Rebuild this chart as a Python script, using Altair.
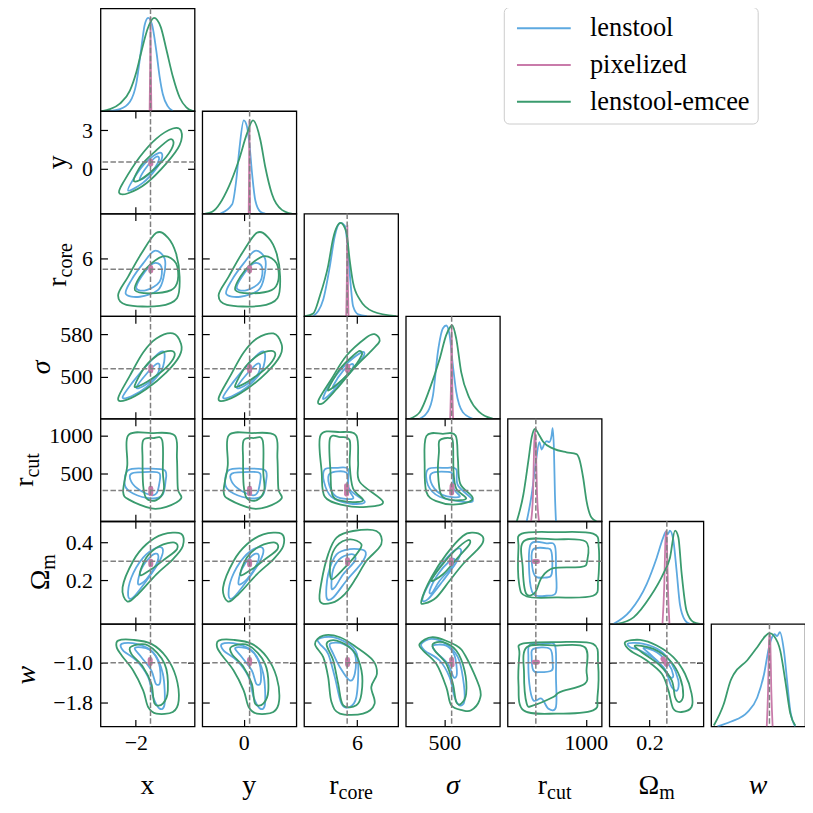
import altair as alt
import pandas as pd

FONT = "Liberation Serif"
W, H = 94.5, 103

PARAMS = ["x", "y", "rcore", "sigma", "rcut", "om", "w"]
DOMAIN = {"x": [-3.2, 0.0], "y": [-3.55, 4.5], "rcore": [3.3, 8.1], "sigma": [420, 615],
          "rcut": [-135, 1230], "om": [-0.03, 0.51], "w": [-2.29, -0.21]}
TRUTH = {"x": -1.5, "y": 0.5, "rcore": 5.5, "sigma": 515, "rcut": 275, "om": 0.3, "w": -1.0}
XTICKS = {"x": [-2], "y": [0], "rcore": [6], "sigma": [500], "rcut": [1000], "om": [0.2], "w": [-1]}
YTICKS = {"y": [0, 3], "rcore": [6], "sigma": [500, 580], "rcut": [500, 1000], "om": [0.2, 0.4], "w": [-1.8, -1.0]}
XFMT = {"x": "d", "y": "d", "rcore": "d", "sigma": "d", "rcut": "d", "om": ".1f", "w": "d"}
YFMT = {"y": "d", "rcore": "d", "sigma": "d", "rcut": "d", "om": ".1f", "w": ".1f"}
TITLE_MAIN = {"x": "x", "y": "y", "rcore": "r", "sigma": "σ", "rcut": "r", "om": "Ω", "w": "w"}
TITLE_SUB = {"rcore": "core", "rcut": "cut", "om": "m"}
ITALIC = ["sigma", "w"]
METHODS = ["lenstool", "pixelized", "lenstool-emcee"]
COLORS = ["#5DA9E0", "#C97BAA", "#3A9B6E"]

# ---------------- 1D marginals (value, relative height) ----------------
D_x = {
    "lenstool": [(-2.88, 0), (-2.54, 0.02), (-2.2, 0.1), (-1.98, 0.3), (-1.81, 0.68), (-1.7, 0.92), (-1.58, 1.0),
                 (-1.45, 0.93), (-1.3, 0.64), (-1.19, 0.37), (-1.08, 0.18), (-0.91, 0.05), (-0.74, 0.0)],
    "lenstool-emcee": [(-3.15, 0.0), (-2.88, 0.02), (-2.54, 0.08), (-2.2, 0.22), (-1.98, 0.42), (-1.8, 0.65),
                       (-1.6, 0.88), (-1.38, 1.0), (-1.15, 0.9), (-0.96, 0.66), (-0.74, 0.37), (-0.5, 0.14),
                       (-0.28, 0.04), (-0.05, 0.0)],
    "pixelized": [(-1.53, 0), (-1.51, 0.5), (-1.50, 1.0), (-1.49, 0.5), (-1.47, 0)],
}
D_y = {
    "lenstool": [(-2.0, 0.0), (-0.99, 0.1), (-0.65, 0.35), (-0.37, 0.7), (0.0, 1.0), (0.28, 0.93), (0.48, 0.75),
                 (0.71, 0.43), (0.99, 0.14), (1.42, 0.02), (1.84, 0.0)],
    "lenstool-emcee": [(-3.3, 0.0), (-2.7, 0.02), (-1.28, 0.29), (-0.43, 0.57), (0.28, 0.86), (0.79, 1.0),
                       (1.42, 0.79), (1.84, 0.5), (2.41, 0.21), (3.26, 0.04), (4.1, 0.0)],
    "pixelized": [(0.42, 0), (0.46, 0.5), (0.48, 1.0), (0.50, 0.5), (0.54, 0)],
}
D_rcore = {
    "lenstool": [(3.77, 0), (4.28, 0.18), (4.62, 0.54), (4.87, 0.86), (5.16, 1.0), (5.38, 0.97), (5.55, 0.68),
                 (5.67, 0.36), (5.80, 0.11), (6.06, 0.02), (6.5, 0)],
    "lenstool-emcee": [(3.35, 0), (3.77, 0.03), (4.11, 0.22), (4.53, 0.54), (4.79, 0.84), (5.16, 1.0), (5.46, 0.9),
                       (5.63, 0.6), (5.80, 0.36), (6.14, 0.18), (6.82, 0.05), (8.0, 0)],
    "pixelized": [(5.45, 0), (5.49, 0.5), (5.51, 0.97), (5.53, 0.5), (5.57, 0)],
}
D_sigma = {
    "lenstool": [(448.8, 0), (466.0, 0.08), (476.3, 0.25), (486.6, 0.72), (497.0, 0.97), (503.9, 1.0), (510.7, 0.9),
                 (517.6, 0.57), (524.5, 0.29), (538.2, 0.07), (558.9, 0.0)],
    "lenstool-emcee": [(428.4, 0), (448.8, 0.07), (469.5, 0.32), (490.1, 0.64), (503.9, 0.9), (516.3, 1.0),
                       (524.5, 0.86), (534.8, 0.5), (552.0, 0.22), (572.6, 0.07), (600.1, 0)],
    "pixelized": [(512, 0), (514, 0.5), (515, 1.0), (516, 0.5), (518, 0)],
}
D_rcut = {
    "lenstool": [(143, 0), (215, 0.29), (278, 0.65), (326, 0.85), (360, 0.77), (398, 0.83), (432, 0.86), (470, 0.85),
                 (504, 0.92), (519, 1.0), (538, 0.76), (552, 0.29), (567, 0)],
    "lenstool-emcee": [(-1, 0), (95, 0.29), (167, 0.65), (215, 0.9), (263, 0.99), (312, 0.94), (384, 0.85),
                       (528, 0.78), (720, 0.74), (865, 0.72), (913, 0.65), (961, 0.47), (1010, 0.22), (1082, 0.04),
                       (1154, 0)],
    "pixelized": [(206, 0), (235, 0.3), (250, 0.8), (263, 0.97), (276, 0.8), (292, 0.3), (321, 0)],
}
D_om = {
    "lenstool": [(-0.005, 0), (0.09, 0.14), (0.185, 0.43), (0.242, 0.71), (0.28, 0.93), (0.295, 0.99), (0.305, 0.96),
                 (0.318, 1.0), (0.337, 0.9), (0.356, 0.57), (0.375, 0.21), (0.404, 0.04), (0.432, 0)],
    "lenstool-emcee": [(0.014, 0), (0.109, 0.07), (0.204, 0.29), (0.28, 0.54), (0.318, 0.71), (0.347, 1.0),
                       (0.366, 0.93), (0.385, 0.54), (0.413, 0.14), (0.452, 0.02), (0.49, 0)],
    "pixelized": [(0.275, 0), (0.285, 0.4), (0.292, 0.9), (0.296, 1.0), (0.300, 0.9), (0.306, 0.4), (0.315, 0)],
}
D_w = {
    "lenstool": [(-2.15, 0), (-1.86, 0.05), (-1.49, 0.15), (-1.27, 0.31), (-1.12, 0.56), (-1.01, 0.85), (-0.94, 0.96),
                 (-0.89, 0.99), (-0.83, 0.97), (-0.77, 1.01), (-0.68, 0.81), (-0.61, 0.49), (-0.54, 0.17), (-0.43, 0)],
    "lenstool-emcee": [(-2.23, 0.01), (-2.01, 0.24), (-1.86, 0.49), (-1.79, 0.56), (-1.49, 0.71), (-1.27, 0.85),
                       (-1.09, 0.97), (-1.0, 1.0), (-0.90, 0.97), (-0.76, 0.81), (-0.65, 0.49), (-0.54, 0.14),
                       (-0.43, 0.01)],
    "pixelized": [(-1.06, 0), (-1.03, 0.4), (-1.01, 0.9), (-0.995, 1.0), (-0.98, 0.9), (-0.96, 0.4), (-0.93, 0)],
}

# ---------------- 2D contours: (column value, row value) ----------------
# g2/g1: lenstool-emcee outer/inner, b2/b1: lenstool outer/inner, p: pixelized
C_y_x = dict(
    g2=[(-2.57, -1.90), (-2.41, -1.04), (-1.86, 0.91), (-1.30, 2.34), (-0.74, 3.13), (-0.46, 2.94), (-0.51, 1.82),
        (-0.96, 0.39), (-1.64, -1.17), (-2.26, -1.95)],
    g1=[(-2.07, -0.91), (-1.81, 0.26), (-1.36, 1.30), (-0.85, 2.27), (-0.72, 1.90), (-0.96, 0.91), (-1.41, -0.13),
        (-1.86, -0.91)],
    b2=[(-2.26, -1.74), (-2.03, -0.65), (-1.64, 0.52), (-1.21, 1.22), (-1.10, 0.91), (-1.30, 0.0), (-1.75, -1.12)],
    b1=[(-1.86, -0.78), (-1.58, 0.26), (-1.30, 0.91), (-1.21, 0.70), (-1.41, -0.13), (-1.73, -0.78)],
    p=[(-1.49, 0.32), (-1.49, 0.58)],
)
C_rcore_x = dict(
    g2=[(-1.30, 7.20), (-0.91, 6.98), (-0.63, 6.23), (-0.51, 5.15), (-0.60, 4.14), (-1.19, 3.78), (-2.32, 3.83),
        (-2.60, 4.29), (-2.26, 5.15), (-1.81, 6.23)],
    g1=[(-1.02, 6.11), (-0.63, 5.77), (-0.57, 4.99), (-0.80, 4.52), (-1.53, 4.37), (-2.03, 4.52), (-1.86, 5.15),
        (-1.47, 5.77)],
    b2=[(-1.36, 6.36), (-1.02, 6.0), (-1.05, 5.15), (-1.25, 4.52), (-1.86, 4.21), (-2.34, 4.34), (-2.15, 4.99),
        (-1.75, 5.77)],
    b1=[(-1.41, 5.77), (-1.13, 5.61), (-1.19, 4.91), (-1.64, 4.52), (-1.98, 4.60), (-1.81, 5.15)],
    p=[(-1.49, 5.42), (-1.49, 5.58)],
)
C_rcore_y = dict(
    g2=[(1.12, 7.20), (2.10, 6.98), (2.81, 6.23), (3.11, 5.15), (2.88, 4.14), (1.40, 3.78), (-1.44, 3.83),
        (-2.15, 4.29), (-1.29, 5.15), (-0.16, 6.23)],
    g1=[(1.82, 6.11), (2.81, 5.77), (2.96, 4.99), (2.38, 4.52), (0.54, 4.37), (-0.72, 4.52), (-0.29, 5.15),
        (0.69, 5.77)],
    b2=[(0.97, 6.36), (1.82, 6.0), (1.75, 5.15), (1.25, 4.52), (-0.29, 4.21), (-1.50, 4.34), (-1.02, 4.99),
        (-0.01, 5.77)],
    b1=[(0.84, 5.77), (1.55, 5.61), (1.40, 4.91), (0.27, 4.52), (-0.59, 4.60), (-0.16, 5.15)],
    p=[(0.5, 5.42), (0.5, 5.58)],
)
C_sigma_x = dict(
    g2=[(-2.60, 459.0), (-2.20, 501.9), (-1.75, 546.1), (-1.30, 572.6), (-0.74, 582.1), (-0.46, 561.9),
        (-0.51, 539.8), (-0.96, 508.2), (-1.64, 476.6), (-2.32, 455.8)],
    g1=[(-2.03, 484.2), (-1.70, 517.7), (-1.25, 541.0), (-0.80, 549.2), (-0.68, 539.8), (-0.96, 517.7),
        (-1.47, 495.6), (-1.92, 481.7)],
    b2=[(-2.45, 460.9), (-2.09, 490.5), (-1.64, 520.8), (-1.19, 546.1), (-1.02, 542.9), (-1.13, 511.4),
        (-1.64, 479.8), (-2.15, 462.8)],
    b1=[(-1.98, 479.8), (-1.64, 505.1), (-1.30, 524.0), (-1.19, 520.8), (-1.30, 501.9), (-1.75, 481.7)],
    p=[(-1.49, 511), (-1.49, 519)],
)
C_sigma_y = dict(
    g2=[(-2.15, 459.0), (-1.14, 501.9), (-0.01, 546.1), (1.12, 572.6), (2.53, 582.1), (3.23, 561.9), (3.11, 539.8),
        (1.98, 508.2), (0.27, 476.6), (-1.44, 455.8)],
    g1=[(-0.72, 484.2), (0.11, 517.7), (1.25, 541.0), (2.38, 549.2), (2.68, 539.8), (1.98, 517.7), (0.69, 495.6),
        (-0.44, 481.7)],
    b2=[(-1.77, 460.9), (-0.87, 490.5), (0.27, 520.8), (1.40, 546.1), (1.82, 542.9), (1.55, 511.4), (0.27, 479.8),
        (-1.02, 462.8)],
    b1=[(-0.59, 479.8), (0.27, 505.1), (1.12, 524.0), (1.40, 520.8), (1.12, 501.9), (-0.01, 481.7)],
    p=[(0.5, 511), (0.5, 519)],
)
C_sigma_rcore = dict(
    g2=[(4.03, 454.5), (4.70, 495.6), (5.46, 539.8), (6.48, 574.5), (6.90, 580.8), (7.16, 568.2), (6.73, 549.2),
        (5.89, 517.7), (4.96, 476.6), (4.28, 450.1)],
    g1=[(4.53, 476.6), (5.13, 514.5), (5.80, 539.8), (6.14, 549.2), (6.23, 539.8), (5.63, 508.2), (4.79, 479.8)],
    b2=[(4.28, 460.9), (4.79, 495.6), (5.46, 524.0), (6.23, 546.1), (6.35, 539.8), (5.80, 514.5), (4.96, 479.8),
        (4.45, 460.9)],
    b1=[(4.79, 483.0), (5.30, 511.4), (5.72, 524.0), (5.80, 517.7), (5.38, 498.7), (4.87, 479.8)],
    p=[(5.52, 512), (5.53, 520)],
)
C_rcut_x = dict(
    g2=[(-2.26, 1008), (-1.47, 1039), (-0.68, 1008), (-0.60, 699), (-0.57, 301), (-0.46, 169), (-0.96, 58),
        (-1.47, 36), (-2.20, 147), (-2.43, 257), (-2.29, 610)],
    g1=[(-1.75, 942), (-1.41, 973), (-1.10, 942), (-1.08, 522), (-1.05, 279), (-1.30, 147), (-1.64, 169),
        (-1.75, 345), (-1.77, 699)],
    b2=[(-2.26, 544), (-1.64, 566), (-1.02, 544), (-0.99, 390), (-1.10, 213), (-1.47, 169), (-2.09, 235),
        (-2.37, 345)],
    b1=[(-2.15, 500), (-1.53, 522), (-1.19, 500), (-1.21, 345), (-1.30, 235), (-1.47, 213), (-1.86, 279),
        (-2.15, 390)],
    p=[(-1.49, 230), (-1.49, 305)],
)
C_rcut_y = dict(
    g2=[(-1.29, 1008), (0.69, 1039), (2.68, 1008), (2.88, 699), (2.96, 301), (3.23, 169), (1.98, 58), (0.69, 36),
        (-1.14, 147), (-1.72, 257), (-1.37, 610)],
    g1=[(-0.01, 942), (0.84, 973), (1.62, 942), (1.67, 522), (1.75, 279), (1.12, 147), (0.27, 169), (-0.01, 345),
        (-0.06, 699)],
    b2=[(-1.29, 544), (0.27, 566), (1.82, 544), (1.90, 390), (1.62, 213), (0.69, 169), (-0.87, 235), (-1.57, 345)],
    b1=[(-1.02, 500), (0.54, 522), (1.40, 500), (1.35, 345), (1.12, 235), (0.69, 213), (-0.29, 279), (-1.02, 390)],
    p=[(0.5, 230), (0.5, 305)],
)
C_rcut_rcore = dict(
    g2=[(4.14, 1008), (5.13, 1052), (5.97, 1008), (6.06, 655), (6.14, 390), (7.33, 125), (6.48, 58), (5.30, 80),
        (4.36, 191), (4.20, 522)],
    g1=[(4.62, 964), (5.13, 986), (5.63, 942), (5.63, 610), (5.80, 301), (6.31, 147), (5.63, 125), (4.79, 191),
        (4.65, 522)],
    b2=[(4.36, 557), (4.96, 575), (5.55, 557), (5.60, 301), (6.40, 125), (5.63, 102), (4.70, 191), (4.32, 390)],
    b1=[(4.62, 500), (5.46, 513), (5.55, 301), (5.80, 169), (4.96, 191), (4.59, 345)],
    p=[(5.47, 225), (5.47, 340)],
)
C_rcut_sigma = dict(
    g2=[(462.6, 999), (497.0, 1030), (523.1, 1008), (527.9, 699), (532.7, 367), (558.9, 169), (524.5, 89),
        (483.2, 133), (462.6, 257), (459.1, 610)],
    g1=[(490.1, 942), (510.7, 973), (517.6, 920), (519.0, 522), (524.5, 301), (545.1, 169), (517.6, 147),
        (493.5, 213), (486.6, 522), (488.7, 787)],
    b2=[(466.0, 557), (503.9, 575), (524.5, 557), (527.9, 345), (558.9, 147), (538.2, 125), (490.1, 191),
        (466.0, 345)],
    b1=[(472.9, 500), (507.3, 522), (517.6, 478), (519.0, 301), (531.4, 191), (497.0, 213), (474.9, 345)],
    p=[(515, 240), (516, 340)],
)
C_om_x = dict(
    g2=[(-0.46, 0.445), (-1.08, 0.441), (-1.64, 0.389), (-2.09, 0.301), (-2.45, 0.162), (-2.29, 0.088),
        (-1.92, 0.127), (-1.30, 0.231), (-0.74, 0.310), (-0.40, 0.380)],
    g1=[(-1.86, 0.228), (-1.64, 0.319), (-1.19, 0.380), (-0.68, 0.398), (-0.60, 0.363), (-1.02, 0.310),
        (-1.47, 0.258)],
    b2=[(-2.26, 0.118), (-2.15, 0.214), (-1.75, 0.319), (-1.30, 0.371), (-1.08, 0.363), (-1.19, 0.301),
        (-1.64, 0.197), (-2.09, 0.109)],
    b1=[(-1.92, 0.179), (-1.81, 0.258), (-1.47, 0.328), (-1.25, 0.336), (-1.30, 0.284), (-1.64, 0.205)],
    p=[(-1.49, 0.28), (-1.49, 0.30)],
)
C_om_y = dict(
    g2=[(3.23, 0.445), (1.67, 0.441), (0.27, 0.389), (-0.87, 0.301), (-1.77, 0.162), (-1.37, 0.088), (-0.44, 0.127),
        (1.12, 0.231), (2.53, 0.310), (3.38, 0.380)],
    g1=[(-0.29, 0.228), (0.27, 0.319), (1.40, 0.380), (2.68, 0.398), (2.88, 0.363), (1.82, 0.310), (0.69, 0.258)],
    b2=[(-1.29, 0.118), (-1.02, 0.214), (-0.01, 0.319), (1.12, 0.371), (1.67, 0.363), (1.40, 0.301), (0.27, 0.197),
        (-0.87, 0.109)],
    b1=[(-0.44, 0.179), (-0.16, 0.258), (0.69, 0.328), (1.25, 0.336), (1.12, 0.284), (0.27, 0.205)],
    p=[(0.5, 0.28), (0.5, 0.30)],
)
C_om_rcore = dict(
    g2=[(4.11, 0.09), (4.20, 0.197), (4.53, 0.336), (4.96, 0.424), (5.80, 0.459), (6.99, 0.459), (7.24, 0.389),
        (6.48, 0.301), (5.97, 0.214), (5.38, 0.127), (4.70, 0.08)],
    g1=[(4.70, 0.205), (4.65, 0.301), (4.96, 0.380), (5.63, 0.415), (6.23, 0.389), (5.97, 0.336), (5.30, 0.258)],
    b2=[(4.45, 0.109), (4.53, 0.231), (4.96, 0.336), (5.63, 0.363), (6.40, 0.354), (6.31, 0.301), (5.46, 0.197),
        (4.79, 0.109)],
    b1=[(4.70, 0.162), (4.79, 0.258), (5.21, 0.319), (5.80, 0.336), (5.89, 0.301), (5.30, 0.231), (4.87, 0.162)],
    p=[(5.52, 0.287), (5.52, 0.307)],
)
C_om_sigma = dict(
    g2=[(452.3, 0.092), (472.9, 0.214), (503.9, 0.336), (538.2, 0.433), (558.9, 0.450), (578.1, 0.433),
        (579.5, 0.398), (565.8, 0.354), (538.2, 0.284), (510.7, 0.197), (483.2, 0.109), (459.1, 0.078)],
    g1=[(472.9, 0.197), (493.5, 0.275), (521.0, 0.354), (548.5, 0.410), (552.0, 0.389), (527.9, 0.319),
        (497.0, 0.231)],
    b2=[(454.3, 0.100), (469.5, 0.188), (497.0, 0.293), (524.5, 0.363), (534.8, 0.354), (524.5, 0.293),
        (497.0, 0.197), (466.0, 0.100)],
    b1=[(469.5, 0.144), (486.6, 0.231), (510.7, 0.301), (521.0, 0.310), (514.2, 0.266), (490.1, 0.197),
        (474.9, 0.135)],
    p=[(514, 0.287), (514, 0.307)],
)
C_om_rcut = dict(
    g2=[(71, 0.445), (576, 0.453), (1106, 0.445), (1188, 0.371), (1178, 0.197), (1106, 0.118), (576, 0.109),
        (143, 0.114), (33, 0.179), (23, 0.371)],
    g1=[(104, 0.406), (576, 0.415), (1000, 0.403), (1019, 0.301), (937, 0.270), (528, 0.263), (360, 0.214),
        (263, 0.135), (133, 0.130), (85, 0.266)],
    b2=[(201, 0.389), (432, 0.394), (552, 0.380), (567, 0.249), (567, 0.135), (432, 0.118), (239, 0.127),
        (181, 0.231)],
    b1=[(239, 0.363), (432, 0.368), (504, 0.345), (504, 0.231), (408, 0.214), (263, 0.223), (215, 0.301)],
    p=[(250, 0.298), (300, 0.298)],
)
C_w_x = dict(
    g2=[(-2.60, -0.549), (-2.09, -0.535), (-1.47, -0.616), (-0.96, -0.886), (-0.63, -1.290), (-0.54, -1.761),
        (-0.74, -1.997), (-1.30, -2.030), (-1.58, -1.896), (-1.75, -1.559), (-2.09, -1.155), (-2.48, -0.852),
        (-2.65, -0.684)],
    g1=[(-2.15, -0.670), (-1.58, -0.650), (-1.02, -1.020), (-0.91, -1.559), (-1.08, -1.828), (-1.36, -1.828),
        (-1.47, -1.424), (-1.75, -1.088), (-2.15, -0.818)],
    b2=[(-2.48, -0.616), (-1.98, -0.616), (-1.41, -0.785), (-1.08, -1.222), (-1.02, -1.828), (-1.19, -1.929),
        (-1.41, -1.694), (-1.58, -1.290), (-1.98, -0.953), (-2.43, -0.751)],
    b1=[(-2.03, -0.697), (-1.53, -0.737), (-1.21, -1.020), (-1.17, -1.391), (-1.32, -1.424), (-1.47, -1.155),
        (-1.81, -0.886)],
    p=[(-1.51, -0.93), (-1.51, -1.02)],
)
C_w_y = dict(
    g2=[(-2.15, -0.549), (-0.87, -0.535), (0.69, -0.616), (1.98, -0.886), (2.81, -1.290), (3.03, -1.761),
        (2.53, -1.997), (1.12, -2.030), (0.42, -1.896), (-0.01, -1.559), (-0.87, -1.155), (-1.85, -0.852),
        (-2.28, -0.684)],
    g1=[(-1.02, -0.670), (0.42, -0.650), (1.82, -1.020), (2.10, -1.559), (1.67, -1.828), (0.97, -1.828),
        (0.69, -1.424), (-0.01, -1.088), (-1.02, -0.818)],
    b2=[(-1.85, -0.616), (-0.59, -0.616), (0.84, -0.785), (1.67, -1.222), (1.82, -1.828), (1.40, -1.929),
        (0.84, -1.694), (0.42, -1.290), (-0.59, -0.953), (-1.72, -0.751)],
    b1=[(-0.72, -0.697), (0.54, -0.737), (1.35, -1.020), (1.45, -1.391), (1.07, -1.424), (0.69, -1.155),
        (-0.16, -0.886)],
    p=[(0.5, -0.93), (0.5, -1.02)],
)
C_w_rcore = dict(
    g2=[(3.86, -0.616), (4.28, -0.448), (5.13, -0.481), (5.97, -0.684), (6.82, -0.953), (7.02, -1.222),
        (6.73, -1.492), (6.90, -1.828), (6.31, -2.030), (5.13, -2.030), (4.70, -1.795), (4.53, -1.290),
        (4.28, -0.886)],
    g1=[(4.45, -0.616), (4.96, -0.549), (5.80, -0.751), (6.23, -1.155), (6.23, -1.626), (5.97, -1.862),
        (5.30, -1.862), (5.04, -1.424), (4.79, -0.953)],
    b2=[(4.03, -0.515), (4.79, -0.481), (5.80, -0.684), (6.06, -1.020), (5.97, -1.694), (5.63, -1.896),
        (5.21, -1.828), (4.87, -1.290), (4.53, -0.818), (4.11, -0.616)],
    b1=[(4.62, -0.616), (5.30, -0.616), (5.89, -0.818), (5.89, -1.222), (5.63, -1.357), (5.13, -1.088),
        (4.79, -0.818)],
    p=[(5.52, -0.93), (5.52, -1.04)],
)
C_w_sigma = dict(
    g2=[(448.8, -0.616), (476.3, -0.481), (524.5, -0.650), (545.1, -0.886), (572.6, -1.492), (572.6, -1.761),
        (555.4, -1.963), (538.2, -1.963), (514.2, -1.862), (503.9, -1.492), (483.2, -1.020), (455.7, -0.751)],
    g1=[(476.3, -0.616), (497.0, -0.582), (524.5, -0.751), (541.7, -1.155), (545.1, -1.626), (534.8, -1.828),
        (524.5, -1.795), (517.6, -1.424), (503.9, -1.020), (479.8, -0.751)],
    b2=[(452.3, -0.616), (472.9, -0.515), (503.9, -0.616), (527.9, -0.886), (538.2, -1.290), (541.7, -1.761),
        (531.4, -1.862), (521.0, -1.694), (510.7, -1.290), (490.1, -0.953), (459.1, -0.751)],
    b1=[(476.3, -0.650), (503.9, -0.650), (521.0, -0.852), (525.9, -1.222), (519.0, -1.290), (507.3, -1.020),
        (483.2, -0.785)],
    p=[(515, -0.93), (516, -1.04)],
)
C_w_rcut = dict(
    g2=[(71, -0.616), (576, -0.582), (1106, -0.616), (1178, -1.020), (1169, -1.694), (1106, -1.963), (576, -2.030),
        (95, -1.963), (23, -1.424), (37, -0.818)],
    g1=[(143, -0.684), (576, -0.650), (986, -0.684), (1010, -1.155), (986, -1.424), (624, -1.593), (528, -1.694),
        (239, -1.862), (143, -1.828), (104, -1.222)],
    b2=[(191, -0.630), (432, -0.603), (557, -0.670), (567, -1.290), (567, -1.896), (456, -1.929), (360, -1.727),
        (239, -1.761), (181, -1.424), (167, -0.886)],
    b1=[(239, -0.717), (480, -0.717), (519, -1.020), (504, -1.155), (335, -1.189), (239, -1.155), (215, -0.886)],
    p=[(250, -0.99), (300, -0.99)],
)
C_w_om = dict(
    g2=[(0.061, -0.582), (0.147, -0.535), (0.242, -0.650), (0.337, -0.886), (0.404, -1.222), (0.442, -1.626),
        (0.442, -1.896), (0.385, -1.997), (0.337, -1.929), (0.309, -1.559), (0.271, -1.222), (0.185, -0.953),
        (0.090, -0.751)],
    g1=[(0.118, -0.650), (0.223, -0.717), (0.318, -0.953), (0.375, -1.290), (0.394, -1.660), (0.372, -1.795),
        (0.347, -1.694), (0.328, -1.357), (0.261, -1.054), (0.156, -0.785)],
    b2=[(0.080, -0.603), (0.166, -0.616), (0.261, -0.751), (0.328, -1.020), (0.366, -1.357), (0.360, -1.559),
        (0.328, -1.492), (0.299, -1.222), (0.242, -0.953), (0.147, -0.751), (0.090, -0.684)],
    b1=[(0.166, -0.697), (0.242, -0.785), (0.309, -1.020), (0.337, -1.256), (0.318, -1.290), (0.280, -1.088),
        (0.213, -0.852)],
    p=[(0.278, -0.92), (0.298, -1.03)],
)

DIAG = {"x": D_x, "y": D_y, "rcore": D_rcore, "sigma": D_sigma, "rcut": D_rcut, "om": D_om, "w": D_w}
CONTOURS = {
    ("y", "x"): C_y_x,
    ("rcore", "x"): C_rcore_x, ("rcore", "y"): C_rcore_y,
    ("sigma", "x"): C_sigma_x, ("sigma", "y"): C_sigma_y, ("sigma", "rcore"): C_sigma_rcore,
    ("rcut", "x"): C_rcut_x, ("rcut", "y"): C_rcut_y, ("rcut", "rcore"): C_rcut_rcore, ("rcut", "sigma"): C_rcut_sigma,
    ("om", "x"): C_om_x, ("om", "y"): C_om_y, ("om", "rcore"): C_om_rcore, ("om", "sigma"): C_om_sigma,
    ("om", "rcut"): C_om_rcut,
    ("w", "x"): C_w_x, ("w", "y"): C_w_y, ("w", "rcore"): C_w_rcore, ("w", "sigma"): C_w_sigma,
    ("w", "rcut"): C_w_rcut, ("w", "om"): C_w_om,
}

# ---------------- layout / styling ----------------
TITLE_X = {"y": -35, "rcore": -35, "sigma": -51, "rcut": -68, "om": -51.5, "w": -66}
MAIN_W = {"rcore": 9.3, "rcut": 9.3, "om": 21.5}
SUB_W = {"rcore": 34.4, "rcut": 24.4, "om": 15.6}
ONE = pd.DataFrame({"o": [0]})
CSCALE = alt.Scale(domain=METHODS, range=COLORS)
LEGEND = alt.Legend(title=None, orient="none", legendX=405, legendY=-1.5, symbolType="M-2.7,0H2.7",
                    symbolSize=400, symbolStrokeWidth=2, symbolOffset=19, labelFont=FONT, labelFontSize=26.5,
                    labelColor="black", labelLimit=0, strokeColor="#cccccc", fillColor="white", cornerRadius=5,
                    padding=8, rowPadding=10, labelOffset=33)
COLOR = alt.Color("method:N", scale=CSCALE, legend=LEGEND)


def mk_axis(orient, values, fmt, labels):
    pad = 8 if orient in ("left", "right") else 6
    return alt.Axis(orient=orient, values=values, format=fmt, labels=labels, ticks=True, tickSize=7,
                    tickWidth=1.2, tickColor="black", offset=-7, domain=False, grid=False, title=None,
                    labelFont=FONT, labelFontSize=22, labelColor="black", labelPadding=pad, labelFlush=False,
                    labelOverlap=False, minExtent=0)


def sc(p):
    return alt.Scale(domain=DOMAIN[p], nice=False, zero=False)


def text_layer(txt, x, y, size, align="center", angle=0, style="normal", baseline="alphabetic"):
    return alt.Chart(ONE).mark_text(text=txt, font=FONT, fontSize=size, fontStyle=style, align=align,
                                    baseline=baseline, angle=angle, color="black").encode(
        x=alt.value(x), y=alt.value(y))


def bottom_title(p):
    style = "italic" if p in ITALIC else "normal"
    main = TITLE_MAIN[p]
    y0 = H + 68
    if p not in TITLE_SUB:
        return [text_layer(main, W / 2, y0, 28, "center", style=style)]
    s = W / 2 + (MAIN_W[p] - SUB_W[p]) / 2
    return [text_layer(main, s, y0, 28, "right"), text_layer(TITLE_SUB[p], s, y0 + 4.5, 20, "left")]


def left_title(p):
    style = "italic" if p in ITALIC else "normal"
    main = TITLE_MAIN[p]
    xb = TITLE_X[p]
    if p not in TITLE_SUB:
        return [text_layer(main, xb, H / 2, 28, "center", angle=270, style=style)]
    a = H / 2 - (MAIN_W[p] - SUB_W[p]) / 2
    return [text_layer(main, xb, a, 28, "right", angle=270),
            text_layer(TITLE_SUB[p], xb + 6, a, 20, "left", angle=270)]


def truth_rule():
    return alt.Chart(ONE).mark_rule(color="#808080", strokeDash=[5.5, 2.4], strokeWidth=1.5)


def offdiag(i, j):
    pr, pc = PARAMS[i], PARAMS[j]
    cd = CONTOURS[(pr, pc)]
    rows = []
    for key, method in (("b2", "lenstool"), ("b1", "lenstool"), ("g2", "lenstool-emcee"), ("g1", "lenstool-emcee")):
        for k, (a, b) in enumerate(cd[key]):
            rows.append({"cid": key, "method": method, "k": k, "a": a, "b": b})
    prow = [{"cid": "p", "method": "pixelized", "k": k, "a": a, "b": b} for k, (a, b) in enumerate(cd["p"])]
    xs, ys = sc(pc), sc(pr)
    lines = alt.Chart(pd.DataFrame(rows)).mark_line(interpolate="cardinal-closed", strokeWidth=1.8, clip=True).encode(
        x=alt.X("a:Q", scale=xs, axis=mk_axis("bottom", XTICKS[pc], XFMT[pc], i == 6)),
        y=alt.Y("b:Q", scale=ys, axis=mk_axis("left", YTICKS[pr], YFMT[pr], j == 0)),
        color=COLOR, detail="cid:N", order="k:Q")
    pink = alt.Chart(pd.DataFrame(prow)).mark_line(strokeWidth=5, strokeCap="round", clip=True).encode(
        x=alt.X("a:Q", scale=xs, axis=None), y=alt.Y("b:Q", scale=ys, axis=None), color=COLOR, order="k:Q")
    vr = truth_rule().encode(x=alt.X(datum=TRUTH[pc], type="quantitative", scale=xs,
                                     axis=mk_axis("top", XTICKS[pc], XFMT[pc], False)))
    hr = truth_rule().encode(y=alt.Y(datum=TRUTH[pr], type="quantitative", scale=ys,
                                     axis=mk_axis("right", YTICKS[pr], YFMT[pr], False)))
    layers = [lines, pink, vr, hr]
    if i == 6:
        layers += bottom_title(pc)
    if j == 0:
        layers += left_title(pr)
    return alt.layer(*layers).resolve_axis(x="independent", y="independent").properties(width=W, height=H)


def diag(i):
    p = PARAMS[i]
    d = DIAG[p]
    rows = []
    for method in ("lenstool", "pixelized", "lenstool-emcee"):
        for k, (a, h) in enumerate(d[method]):
            rows.append({"method": method, "k": k, "a": a, "h": h})
    xs = sc(p)
    curves = alt.Chart(pd.DataFrame(rows)).mark_line(interpolate="monotone", strokeWidth=1.8, clip=True).encode(
        x=alt.X("a:Q", scale=xs, axis=mk_axis("bottom", XTICKS[p], XFMT[p], i == 6)),
        y=alt.Y("h:Q", scale=alt.Scale(domain=[0, 1.1], nice=False, zero=False), axis=None),
        color=COLOR, detail="method:N", order="k:Q")
    vr = truth_rule().encode(x=alt.X(datum=TRUTH[p], type="quantitative", scale=xs, axis=None))
    layers = [curves, vr]
    if i == 6:
        layers += bottom_title(p)
    return alt.layer(*layers).properties(width=W, height=H)


def empty():
    return alt.Chart(ONE).mark_point(opacity=0, size=1).encode(x=alt.value(W / 2), y=alt.value(H / 2)).properties(
        width=W, height=H, view=alt.ViewBackground(stroke="transparent"))


cells = []
for i in range(7):
    for j in range(7):
        if j < i:
            cells.append(offdiag(i, j))
        elif j == i:
            cells.append(diag(i))
        else:
            cells.append(empty())

chart = alt.concat(*cells, columns=7, spacing={"row": 0, "column": 7.2}, bounds="flush").properties(
    padding={"left": 1.9, "top": -3.2, "right": -1.5, "bottom": -2}
).configure_view(stroke="black", strokeWidth=1.3)

chart.save("out.html", embed_options={"renderer": "svg", "actions": False})
